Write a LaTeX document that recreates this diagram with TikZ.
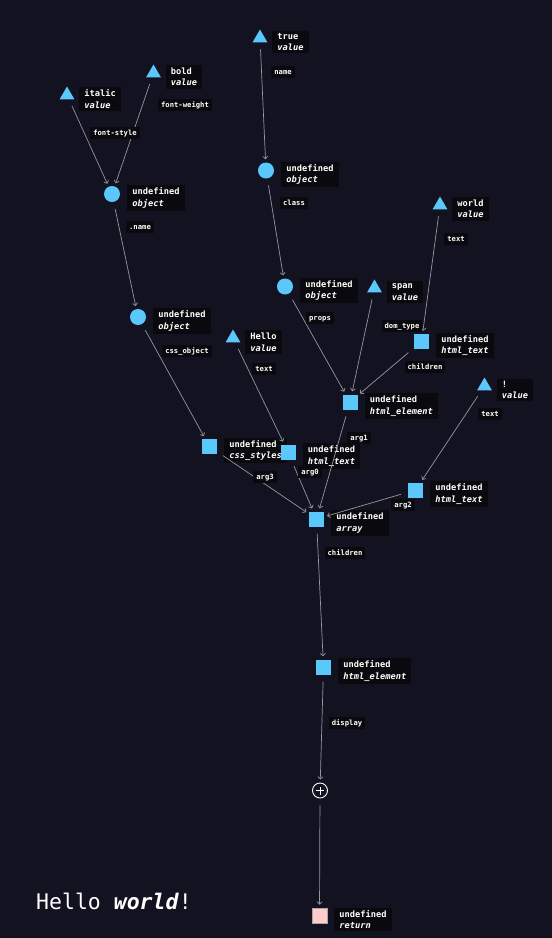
\documentclass[tikz,border=0pt]{standalone}
\usepackage{fontspec}
\setmonofont{DejaVu Sans Mono}
\usetikzlibrary{shapes.geometric, arrows.meta, positioning}
\definecolor{bgdark}{RGB}{19, 18, 32}
\definecolor{nodeblue}{RGB}{90, 200, 250}
\definecolor{retpink}{RGB}{255, 204, 204}
\definecolor{boxblack}{RGB}{10, 10, 14}
\definecolor{edgegray}{RGB}{150, 150, 162}

\begin{document}
\begin{tikzpicture}[x=1pt, y=-1pt,
    valnode/.style={regular polygon, regular polygon sides=3, fill=nodeblue, minimum size=17pt, inner sep=0pt},
    objnode/.style={circle, fill=nodeblue, minimum size=16pt, inner sep=0pt},
    elemnode/.style={rectangle, fill=nodeblue, minimum size=15pt, inner sep=0pt},
    retnode/.style={rectangle, fill=retpink, draw=gray!70, line width=0.5pt, minimum size=15pt, inner sep=0pt},
    plusnode/.style={circle, draw=white, fill=bgdark, line width=0.9pt, minimum size=15pt, inner sep=0pt},
    infobox/.style={fill=boxblack, text=white, align=left, inner xsep=5pt, inner ysep=2.5pt,
        font=\ttfamily\bfseries\fontsize{8.7}{11.5}\selectfont, right=7pt of #1, yshift=-4pt},
    lbl/.style={fill=boxblack, text=white, inner xsep=3pt, inner ysep=2.5pt, text height=5.5pt, text depth=1.5pt,
        font=\ttfamily\bfseries\fontsize{7.2}{8}\selectfont},
    link/.style={draw=edgegray, line width=0.7pt, -{Straight Barb[length=2.5pt,width=5pt]}, shorten <=7pt, shorten >=3pt}]

    % Background
    \fill[bgdark] (0,0) rectangle (552,938);

    % Values
    \node[valnode] (truev) at (260,38) {};
    \node[infobox=truev] (truei) {true\\\itshape value};
    \node[valnode] (bold) at (153.5,73) {};
    \node[infobox=bold] (boldi) {bold\\\itshape value};
    \node[valnode] (italic) at (67,95) {};
    \node[infobox=italic] (italici) {italic\\\itshape value};
    \node[valnode] (worldv) at (440,205) {};
    \node[infobox=worldv] (worldi) {world\\\itshape value};
    \node[valnode] (spanv) at (374.5,288) {};
    \node[infobox=spanv] (spani) {span\\\itshape value};
    \node[valnode] (hellov) at (233,338) {};
    \node[infobox=hellov] (helloi) {Hello\\\itshape value};
    \node[valnode] (bangv) at (484.5,386) {};
    \node[infobox=bangv] (bangi) {!\\\itshape value};

    % Objects
    \node[objnode] (objA) at (112,194) {};
    \node[infobox=objA] (objAi) {undefined\\\itshape object};
    \node[objnode] (objB) at (266,170.5) {};
    \node[infobox=objB] (objBi) {undefined\\\itshape object};
    \node[objnode] (objC) at (285,286.5) {};
    \node[infobox=objC] (objCi) {undefined\\\itshape object};
    \node[objnode] (objD) at (138,317) {};
    \node[infobox=objD] (objDi) {undefined\\\itshape object};

    % Elements
    \node[elemnode] (textA) at (421.5,341.5) {};
    \node[infobox=textA] (textAi) {undefined\\\itshape html\_text};
    \node[elemnode] (elemA) at (350,402) {};
    \node[infobox=elemA] (elemAi) {undefined\\\itshape html\_element};
    \node[elemnode] (styles) at (209.5,446.5) {};
    \node[infobox=styles] (stylesi) {undefined\\\itshape css\_styles};
    \node[elemnode] (textB) at (288,452) {};
    \node[infobox=textB] (textBi) {undefined\\\itshape html\_text};
    \node[elemnode] (textC) at (415.5,490) {};
    \node[infobox=textC] (textCi) {undefined\\\itshape html\_text};
    \node[elemnode] (arr) at (316.5,519) {};
    \node[infobox=arr] (arri) {undefined\\\itshape array};
    \node[elemnode] (elemB) at (323.5,667) {};
    \node[infobox=elemB] (elemBi) {undefined\\\itshape html\_element};
    \node[plusnode] (plus) at (320,790.5) {};
    \draw[white, line width=0.9pt] ([xshift=-4pt]plus.center) -- ([xshift=4pt]plus.center)
        ([yshift=-4pt]plus.center) -- ([yshift=4pt]plus.center);
    \node[retnode] (ret) at (319.5,915.5) {};
    \node[infobox=ret] (reti) {undefined\\\itshape return};

    % Links
    \draw[link] (italic) -- (objA);
    \draw[link] (bold) -- (objA);
    \draw[link] (truev) -- (objB);
    \draw[link] (objB) -- (objC);
    \draw[link] (objA) -- (objD);
    \draw[link] (worldv) -- (textA);
    \draw[link] (objC) -- (elemA);
    \draw[link] (spanv) -- (elemA);
    \draw[link] (textA) -- (elemA);
    \draw[link] (objD) -- (styles);
    \draw[link] (hellov) -- (textB);
    \draw[link] (bangv) -- (textC);
    \draw[link] (elemA) -- (arr);
    \draw[link] (textB) -- (arr);
    \draw[link] (styles) -- (arr);
    \draw[link] (textC) -- (arr);
    \draw[link] (arr) -- (elemB);
    \draw[link] (elemB) -- (plus);
    \draw[link] (plus) -- (ret);

    % Labels
    \node[lbl] (lstyle) at (115,133) {font-style};
    \node[lbl] (lweight) at (185,105) {font-weight};
    \node[lbl] (lname) at (283,72) {name};
    \node[lbl] (ldotname) at (140,227) {.name};
    \node[lbl] (lclass) at (294,203) {class};
    \node[lbl] (lprops) at (320,318) {props};
    \node[lbl] (ltextw) at (456,239) {text};
    \node[lbl] (ldom) at (402,326) {dom\_type};
    \node[lbl] (lchildA) at (425,367) {children};
    \node[lbl] (ltexth) at (264,369) {text};
    \node[lbl] (lcss) at (187,351) {css\_object};
    \node[lbl] (ltextb) at (490,414) {text};
    \node[lbl] (larg1) at (359,438) {arg1};
    \node[lbl] (larg0) at (310,472) {arg0};
    \node[lbl] (larg3) at (265,477) {arg3};
    \node[lbl] (larg2) at (403,505) {arg2};
    \node[lbl] (lchildB) at (345,553) {children};
    \node[lbl] (ldisplay) at (347,723) {display};

    % Result
    \node[text=white, anchor=base west, inner sep=0pt, font=\ttfamily\fontsize{21.5}{24}\selectfont] (result) at (36,909) {Hello \textbf{\textit{world}}!};
\end{tikzpicture}
\end{document}
